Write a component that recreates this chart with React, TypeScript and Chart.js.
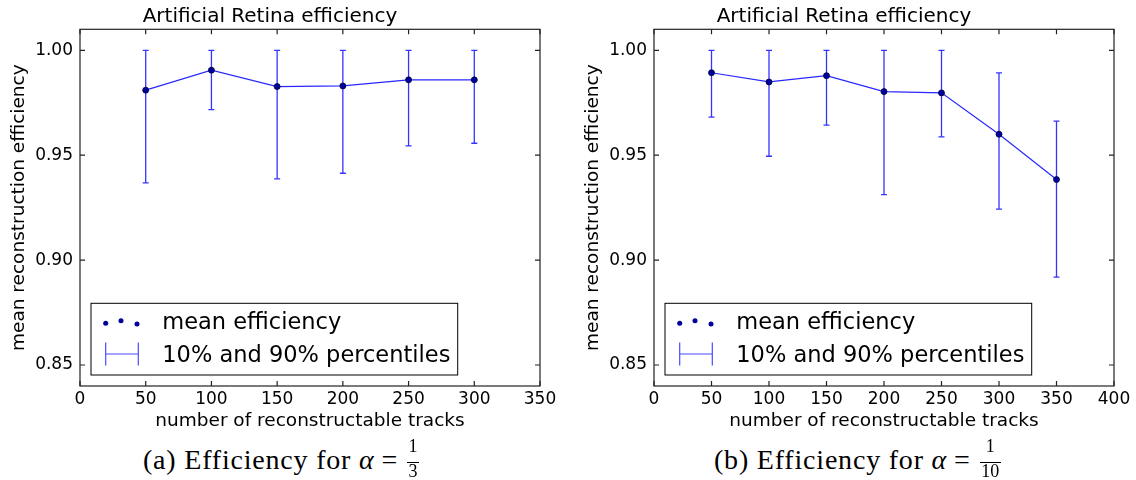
import React, { useEffect, useRef } from 'react';
import { Chart, registerables } from 'chart.js';

Chart.register(...registerables);

// ---------- data ----------
const tracksA = [50, 100, 150, 200, 250, 300];
const meanA = [0.981, 0.9905, 0.9827, 0.983, 0.9859, 0.9859];
const lowA = [0.9368, 0.9717, 0.9387, 0.9414, 0.9544, 0.9557];
const highA = [1.0, 1.0, 1.0, 1.0, 1.0, 1.0];

const tracksB = [50, 100, 150, 200, 250, 300, 350];
const meanB = [0.9893, 0.9849, 0.9879, 0.9803, 0.9797, 0.96, 0.9384];
const lowB = [0.9681, 0.9495, 0.9643, 0.9312, 0.9587, 0.9243, 0.8919];
const highB = [1.0, 1.0, 1.0, 1.0, 1.0, 0.9892, 0.9662];

const yTicks = [0.85, 0.9, 0.95, 1.0];
const yMin = 0.84;
const yMax = 1.01;
const xMaxA = 350;
const xMaxB = 400;
const xStep = 50;

const chartTitle = 'Artificial Retina efficiency';
const xLabel = 'number of reconstructable tracks';
const yLabel = 'mean reconstruction efficiency';
const legendLabels = ['mean efficiency', '10% and 90% percentiles'];

// ---------- style ----------
const FONT = '"DejaVu Sans", sans-serif';
const LINE_COLOR = '#2828ff';
const ERR_COLOR = '#3535ff';
const POINT_FILL = '#00009a';
const POINT_EDGE = '#000040';
const FRAME = '#222';

const CANVAS_H = 440;
const PLOT_LEFT = 80;
const PLOT_W = 460;
const PLOT_BOTTOM = 386;

type Series = { xs: number[]; means: number[]; lows: number[]; highs: number[]; xMax: number };

function makePlugin(s: Series) {
  return {
    id: 'errFrameLegend',
    beforeDatasetsDraw(chart: any) {
      const { ctx, scales } = chart;
      const x = scales.x;
      const y = scales.y;
      ctx.save();
      ctx.strokeStyle = ERR_COLOR;
      ctx.lineWidth = 1.3;
      s.xs.forEach((v, i) => {
        const px = x.getPixelForValue(v);
        const pl = y.getPixelForValue(s.lows[i]);
        const ph = y.getPixelForValue(s.highs[i]);
        ctx.beginPath();
        ctx.moveTo(px, pl);
        ctx.lineTo(px, ph);
        ctx.moveTo(px - 3, pl);
        ctx.lineTo(px + 3, pl);
        ctx.moveTo(px - 3, ph);
        ctx.lineTo(px + 3, ph);
        ctx.stroke();
      });
      ctx.restore();
    },
    afterDraw(chart: any) {
      const { ctx, chartArea, scales } = chart;
      const { left, right, top, bottom } = chartArea;
      const x = scales.x;
      const y = scales.y;
      ctx.save();
      // frame
      ctx.strokeStyle = FRAME;
      ctx.lineWidth = 1.2;
      ctx.strokeRect(left, top, right - left, bottom - top);
      // inward ticks on all sides
      const tl = 5;
      ctx.beginPath();
      x.ticks.forEach((t: any) => {
        const px = x.getPixelForValue(t.value);
        ctx.moveTo(px, bottom);
        ctx.lineTo(px, bottom - tl);
        ctx.moveTo(px, top);
        ctx.lineTo(px, top + tl);
      });
      y.ticks.forEach((t: any) => {
        const py = y.getPixelForValue(t.value);
        ctx.moveTo(left, py);
        ctx.lineTo(left + tl, py);
        ctx.moveTo(right, py);
        ctx.lineTo(right - tl, py);
      });
      ctx.stroke();

      // legend
      const bw = 366.7;
      const bh = 71.7;
      const bx = left + 11;
      const by = bottom - 11 - bh;
      ctx.fillStyle = '#fff';
      ctx.fillRect(bx, by, bw, bh);
      ctx.strokeStyle = '#000';
      ctx.lineWidth = 1;
      ctx.strokeRect(bx, by, bw, bh);

      // scatter sample
      const dots = [
        [14.7, 20],
        [30, 17.4],
        [46, 20.7],
      ];
      ctx.fillStyle = POINT_FILL;
      dots.forEach(([dx, dy]) => {
        ctx.beginPath();
        ctx.arc(bx + dx, by + dy, 2.5, 0, Math.PI * 2);
        ctx.fill();
      });
      // errorbar sample
      ctx.strokeStyle = '#4a4aff';
      ctx.lineWidth = 1.2;
      const ey = by + 50.7;
      const ex0 = bx + 14.7;
      const ex1 = bx + 47.3;
      ctx.beginPath();
      ctx.moveTo(ex0, ey);
      ctx.lineTo(ex1, ey);
      ctx.moveTo(ex0, ey - 11.5);
      ctx.lineTo(ex0, ey + 11.5);
      ctx.moveTo(ex1, ey - 11.5);
      ctx.lineTo(ex1, ey + 11.5);
      ctx.stroke();

      ctx.fillStyle = '#000';
      ctx.font = `22.5px ${FONT}`;
      ctx.textBaseline = 'alphabetic';
      ctx.textAlign = 'left';
      ctx.fillText(legendLabels[0], bx + 71.3, by + 26);
      ctx.fillText(legendLabels[1], bx + 71.3, by + 58.4);
      ctx.restore();
    },
  };
}

function EffChart({ series, width, left }: { series: Series; width: number; left: number }) {
  const ref = useRef<HTMLCanvasElement | null>(null);
  useEffect(() => {
    if (!ref.current) return;
    const chart = new Chart(ref.current, {
      type: 'line',
      data: {
        datasets: [
          {
            data: series.xs.map((v, i) => ({ x: v, y: series.means[i] })),
            borderColor: LINE_COLOR,
            borderWidth: 1.2,
            pointRadius: 3,
            pointBackgroundColor: POINT_FILL,
            pointBorderColor: POINT_EDGE,
            pointBorderWidth: 0.8,
            fill: false,
            tension: 0,
          },
        ],
      },
      options: {
        responsive: false,
        animation: false,
        events: [],
        layout: { padding: { left: 0, top: 0, bottom: 0, right: width - PLOT_LEFT - PLOT_W } },
        plugins: {
          legend: { display: false },
          tooltip: { enabled: false },
          title: {
            display: true,
            text: chartTitle,
            color: '#000',
            font: { family: FONT, size: 20, weight: 'normal' },
            padding: { top: 4.4, bottom: 0.9 },
          },
        },
        scales: {
          x: {
            type: 'linear',
            min: 0,
            max: series.xMax,
            ticks: {
              stepSize: xStep,
              color: '#000',
              font: { family: FONT, size: 17 },
              padding: 3,
              maxRotation: 0,
              autoSkip: false,
            },
            grid: { display: false, drawTicks: false },
            border: { display: false },
            title: {
              display: true,
              text: xLabel,
              color: '#000',
              font: { family: FONT, size: 18.5 },
              padding: { top: 0, bottom: 8 },
            },
            afterFit: (sc: any) => {
              sc.height = CANVAS_H - PLOT_BOTTOM;
            },
          },
          y: {
            type: 'linear',
            min: yMin,
            max: yMax,
            afterBuildTicks: (sc: any) => {
              sc.ticks = yTicks.map((v) => ({ value: v }));
            },
            ticks: {
              color: '#000',
              font: { family: FONT, size: 17 },
              padding: 7,
              callback: (v: any) => Number(v).toFixed(2),
            },
            grid: { display: false, drawTicks: false },
            border: { display: false },
            title: {
              display: true,
              text: yLabel,
              color: '#000',
              font: { family: FONT, size: 18.5 },
              padding: { top: 8, bottom: 0 },
            },
            afterFit: (sc: any) => {
              sc.width = PLOT_LEFT;
            },
          },
        },
      } as any,
      plugins: [makePlugin(series) as any],
    });
    return () => chart.destroy();
  }, [series, width]);
  return (
    <canvas
      ref={ref}
      width={width}
      height={CANVAS_H}
      style={{ position: 'absolute', left, top: 0, width, height: CANVAS_H, display: 'block' }}
    />
  );
}

function Fraction({ num, den }: { num: string; den: string }) {
  const w = den.length * 9 + 3;
  const piece = {
    position: 'absolute' as const,
    left: 0,
    width: w,
    textAlign: 'center' as const,
    fontSize: 18,
    lineHeight: '18px',
    letterSpacing: 0,
  };
  return (
    <span
      style={{
        position: 'relative',
        display: 'inline-block',
        width: w,
        height: 0,
        marginLeft: 8,
      }}
    >
      <span style={{ ...piece, top: -31.5 }}>{num}</span>
      <span style={{ position: 'absolute', left: 0, width: w, top: -7.2, height: 0, borderTop: '1px solid #000' }} />
      <span style={{ ...piece, top: -7.4 }}>{den}</span>
    </span>
  );
}

function Caption({ label, den, left }: { label: string; den: string; left: number }) {
  return (
    <div
      style={{
        position: 'absolute',
        left,
        top: 445.9,
        fontFamily: '"Liberation Serif", serif',
        fontSize: 28,
        lineHeight: '28px',
        letterSpacing: 0.8,
        whiteSpace: 'nowrap',
        color: '#000',
      }}
    >
      {`(${label}) Efficiency for `}
      <i>α</i>
      <span style={{ marginLeft: 7, marginRight: 1 }}>=</span>
      <Fraction num="1" den={den} />
    </div>
  );
}

const seriesA: Series = { xs: tracksA, means: meanA, lows: lowA, highs: highA, xMax: xMaxA };
const seriesB: Series = { xs: tracksB, means: meanB, lows: lowB, highs: highB, xMax: xMaxB };

export default function App() {
  return (
    <div style={{ position: 'absolute', left: 0, top: 0, width: 1136, height: 480, background: '#fff', overflow: 'hidden' }}>
      <EffChart series={seriesA} width={568} left={0} />
      <EffChart series={seriesB} width={562} left={574} />
      <Caption label="a" den="3" left={143} />
      <Caption label="b" den="10" left={714} />
    </div>
  );
}
